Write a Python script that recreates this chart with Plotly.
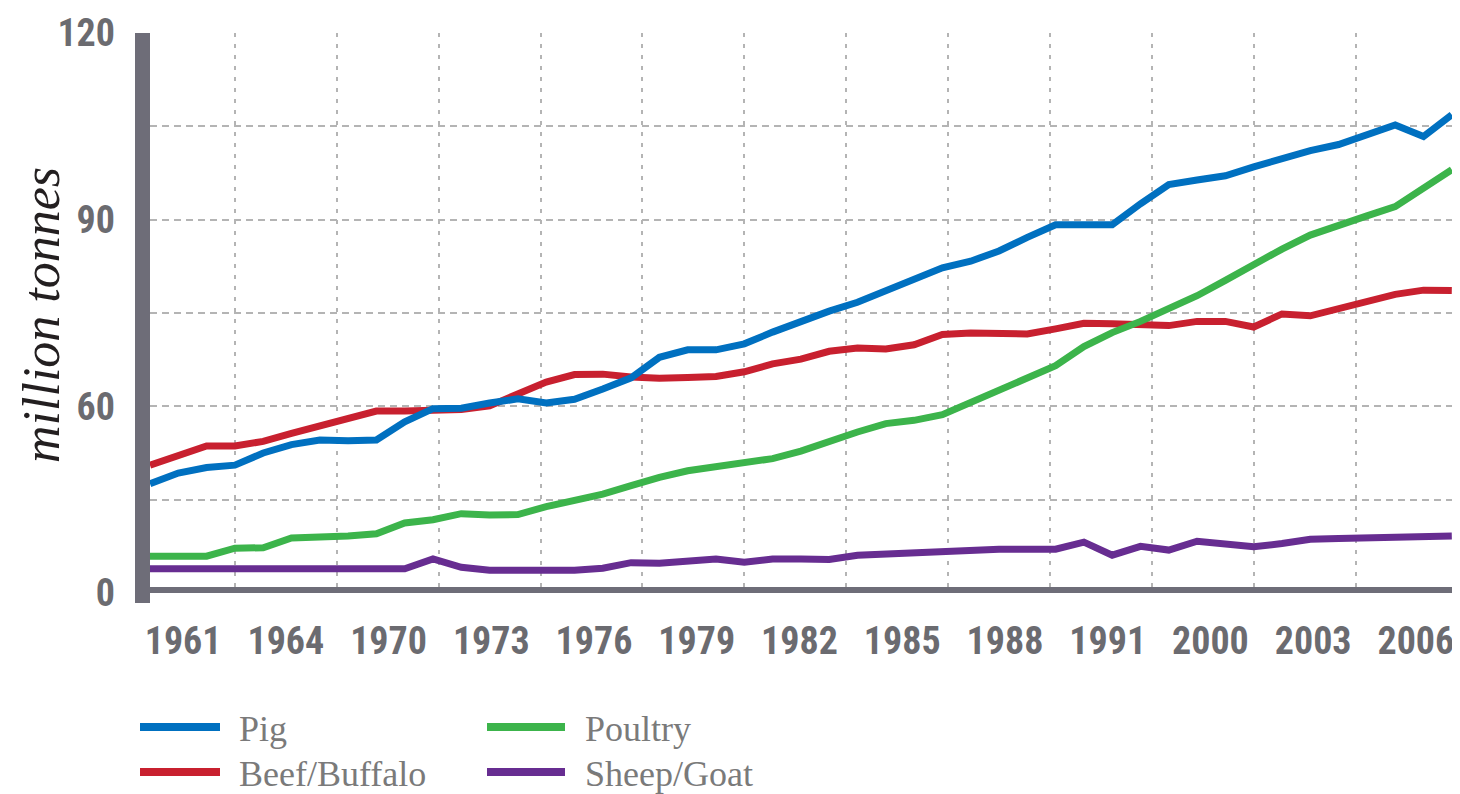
import plotly.graph_objects as go

# ---------------- data ----------------
years = list(range(1961, 2008))

pig = [23.4, 25.7, 26.9, 27.4, 30.0, 31.8, 32.8, 32.6, 32.8, 36.7,
       39.5, 39.6, 40.7, 41.6, 40.7, 41.5, 43.7, 46.1, 50.5, 52.1,
       52.1, 53.4, 55.9, 58.3, 60.4, 62.3, 64.9, 67.3, 69.7, 71.1,
       73.3, 76.2, 78.9, 78.9, 78.9, 83.4, 87.5, 88.5, 89.4, 91.3,
       93.0, 94.8, 96.1, 98.4, 100.3, 97.8, 102.5]

beef = [27.4, 29.5, 31.5, 31.5, 32.5, 34.2, 35.8, 37.5, 39.0, 39.0,
        39.2, 39.3, 40.1, 42.6, 45.2, 46.8, 46.9, 46.3, 46.0, 46.2,
        46.4, 47.4, 49.1, 50.1, 51.8, 52.5, 52.3, 53.2, 55.4, 55.7,
        55.5, 55.5, 56.6, 57.8, 57.7, 57.5, 57.3, 58.2, 58.2, 57.0,
        59.8, 59.4, 61.0, 62.5, 64.0, 64.9, 64.8]

poultry = [7.9, 7.9, 7.9, 9.6, 9.7, 11.8, 11.9, 12.2, 12.7, 15.0,
           15.7, 17.0, 16.7, 16.8, 18.5, 19.8, 21.2, 23.0, 24.8, 26.2,
           27.0, 27.9, 28.8, 30.4, 32.5, 34.5, 36.3, 37.0, 38.2, 40.8,
           43.4, 46.1, 48.7, 52.8, 55.8, 58.2, 60.8, 63.7, 67.0, 70.4,
           73.7, 76.7, 78.9, 80.8, 82.8, 86.8, 90.7]

sheep_goat = [5.2, 5.2, 5.2, 5.2, 5.2, 5.2, 5.2, 5.2, 5.2, 5.2,
              7.3, 5.5, 4.9, 4.9, 4.9, 4.9, 5.3, 6.5, 6.4, 6.9,
              7.3, 6.6, 7.3, 7.3, 7.2, 8.1, 8.4, 8.6, 9.0, 9.4,
              9.4, 9.4, 9.4, 10.9, 8.1, 10.0, 9.2, 11.1, 10.5, 9.9,
              10.6, 11.5, 11.7, 11.8, 12.0, 12.1, 12.2]

series_names = ["Pig", "Beef/Buffalo", "Poultry", "Sheep/Goat"]
x_tick_labels = ["1961", "1964", "1970", "1973", "1976", "1979", "1982",
                 "1985", "1988", "1991", "2000", "2003", "2006"]
y_grid_values = [0, 20, 40, 60, 80, 100, 120]
y_tick_labels = ["0", "", "60", "", "90", "", "120"]
y_title = "million tonnes"

# ---------------- styling ----------------
colors = {"Pig": "#0070c0", "Beef/Buffalo": "#c8202f",
          "Poultry": "#3cb44b", "Sheep/Goat": "#672d91"}
values = {"Pig": pig, "Beef/Buffalo": beef, "Poultry": poultry,
          "Sheep/Goat": sheep_goat}
draw_order = ["Beef/Buffalo", "Sheep/Goat", "Poultry", "Pig"]

# the page body has an 8px margin, so the figure is 8px smaller
OFF = 8
W, H = 1460 - OFF, 794 - OFF
ML, MT = 150 - OFF, 33 - OFF
PW, PH = 1310, 560
MR = W - ML - PW
MB = H - MT - PH
PX_PER_YEAR = 28.3
x_range = [1961, 1961 + PW / PX_PER_YEAR]

bar_color = "#6e6d78"
grid_color = "#b4b4b4"
tick_font = dict(family="Roboto Condensed, Liberation Sans Narrow, Arial Narrow, DejaVu Sans Condensed, sans-serif",
                 size=38, color="#6b6b70", weight="bold")

label_pos = [1962.17 + 3.63 * k for k in range(len(x_tick_labels))]

fig = go.Figure()
for name in draw_order:
    fig.add_trace(go.Scatter(
        x=years, y=values[name], name=name, mode="lines",
        line=dict(color=colors[name], width=7), showlegend=False,
        hoverinfo="x+y+name"))

fig.update_layout(
    width=W, height=H,
    margin=dict(l=ML, r=MR, t=MT, b=MB, pad=0),
    paper_bgcolor="white", plot_bgcolor="white",
    showlegend=False,
    xaxis=dict(
        range=x_range, showline=False, zeroline=False,
        tickmode="array", tickvals=label_pos, ticktext=x_tick_labels,
        showgrid=False, ticks="", tickfont=tick_font,
        ticklabelstandoff=22,
        minor=dict(showgrid=True, tick0=1964.0, dtick=3.6,
                   gridcolor=grid_color, gridwidth=1.5, griddash="4px,7px",
                   ticks=""),
    ),
    yaxis=dict(
        range=[0, 120], showline=False, zeroline=False,
        tickmode="array", tickvals=y_grid_values, ticktext=y_tick_labels,
        showgrid=True, gridcolor=grid_color, gridwidth=1.5,
        griddash="7px,5px", ticks="", tickfont=tick_font,
        ticklabelstandoff=34,
    ),
)

# thick axis bars
fig.add_shape(type="rect", xref="paper", yref="y", ysizemode="pixel",
              yanchor=0, x0=-15 / PW, x1=1.0, y0=-10, y1=6,
              fillcolor=bar_color, line=dict(width=0), layer="above")
fig.add_shape(type="rect", xref="paper", yref="paper",
              x0=-15 / PW, x1=0, y0=-10 / PH, y1=1.0,
              fillcolor=bar_color, line=dict(width=0), layer="above")


# helpers: reference-screen pixels -> paper coordinates
def px2x(p):
    return (p - 150) / PW


def py2y(p):
    return (593 - p) / PH


# y axis title
fig.add_annotation(text="<i>" + y_title + "</i>", xref="paper", yref="paper",
                   x=px2x(41), y=py2y(315), textangle=-90,
                   showarrow=False, xanchor="center", yanchor="middle",
                   font=dict(family="Liberation Serif, DejaVu Serif, serif",
                             size=52, color="#231f20"))

# manual legend (2 columns x 2 rows)
legend_layout = {"Pig": (140, 220, 237, 727), "Beef/Buffalo": (140, 220, 237, 772),
                 "Poultry": (487, 565, 583, 727), "Sheep/Goat": (487, 565, 583, 772)}
for name in series_names:
    lx0, lx1, tx, ty = legend_layout[name]
    fig.add_shape(type="line", xref="paper", yref="paper",
                  x0=px2x(lx0), x1=px2x(lx1), y0=py2y(ty), y1=py2y(ty),
                  line=dict(color=colors[name], width=8))
    fig.add_annotation(text=name, xref="paper", yref="paper",
                       x=px2x(tx), y=py2y(ty + 2), xanchor="left", yanchor="middle",
                       showarrow=False,
                       font=dict(family="Liberation Serif, DejaVu Serif, serif",
                                 size=36, color="#7a7a7a"))

fig.write_html("out.html")
